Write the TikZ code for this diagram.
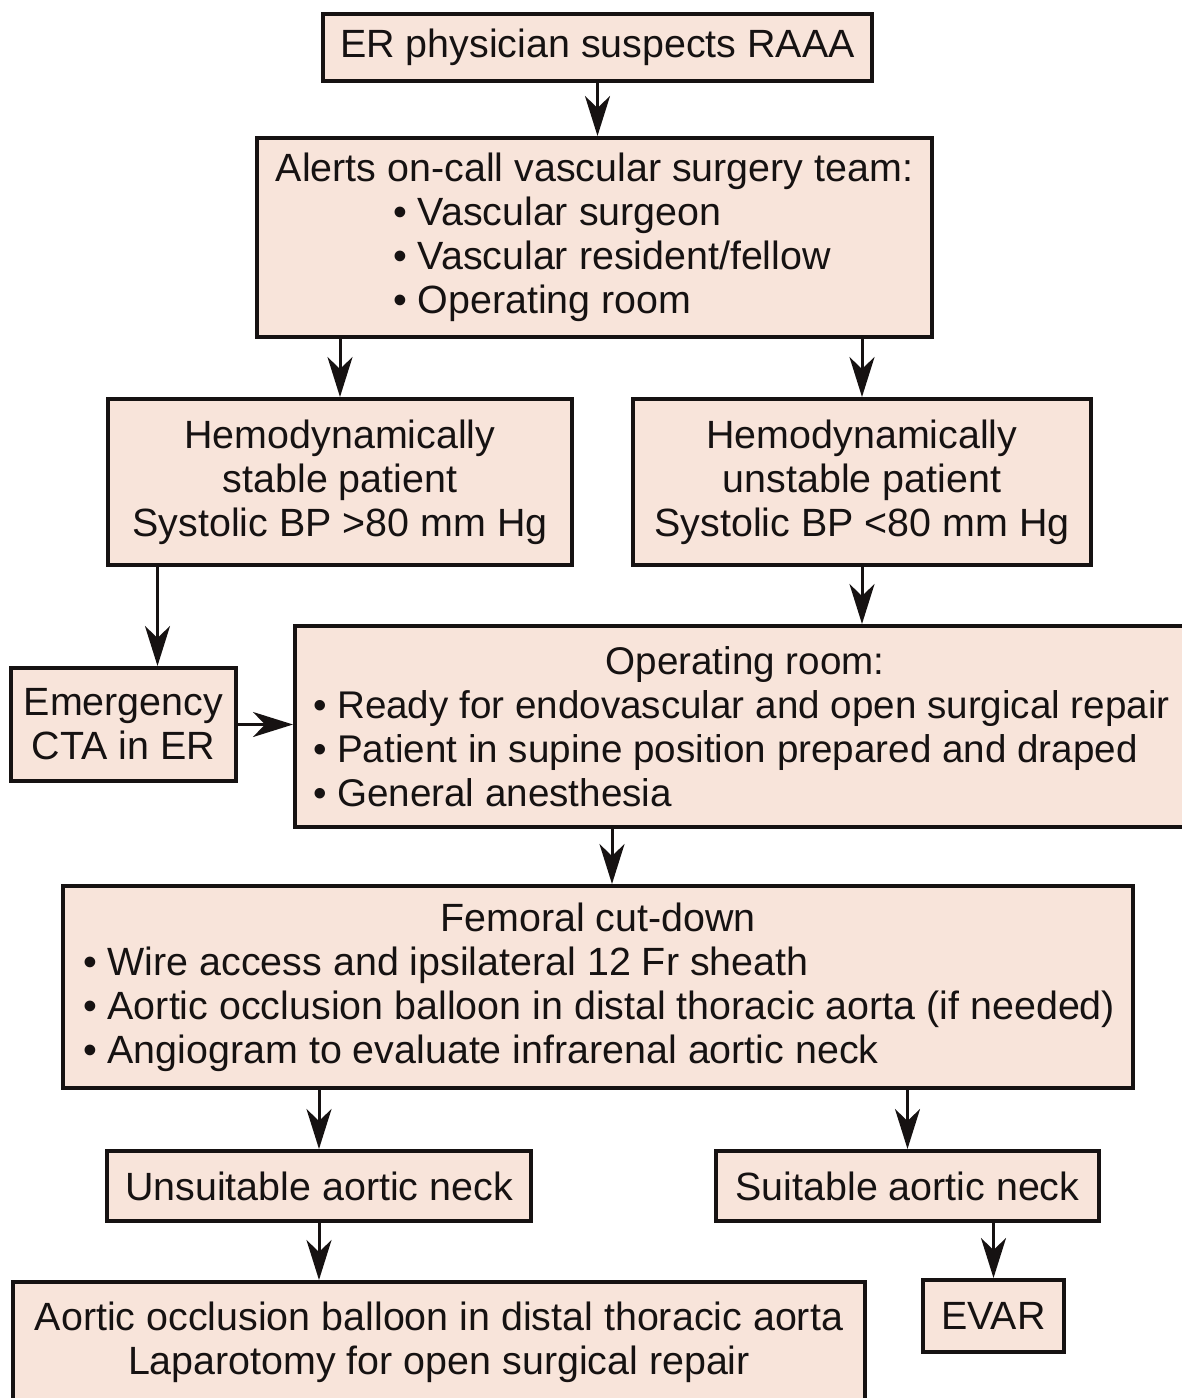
\documentclass[tikz,border=0pt]{standalone}
\usepackage{fontspec}
\setmainfont{Liberation Sans}
\usetikzlibrary{arrows.meta,calc}
\definecolor{salmon}{RGB}{248,228,218}
\definecolor{ink}{RGB}{22,18,18}
% one bulleted line of a box: box width, indent, text
\newcommand{\itemline}[3]{\makebox[#1][l]{\hspace*{#2}• #3}}

\begin{document}
\begin{tikzpicture}[x=0.5pt, y=-0.5pt,
    >={Stealth[length=20pt,width=12.5pt,inset=6pt]},
    flowbox/.style={draw=ink, line width=2pt, fill=salmon, text=ink, inner sep=0pt,
        align=center, font=\fontsize{19.7pt}{22pt}\selectfont},
    flow/.style={->, line width=1.5pt, draw=ink}]

    \useasboundingbox (0,0) rectangle (1182,1398);

    % Alert chain
    \node[flowbox, minimum width=274.5pt, minimum height=33.5pt] (er) at (597.5,47.5) {ER physician suspects RAAA};
    \node[flowbox, minimum height=99.5pt] (alerts) at (594.5,237.5)
        {\makebox[337.5pt]{Alerts on-call vascular surgery team:}\\
         \itemline{337.5pt}{68pt}{Vascular surgeon}\\
         \itemline{337.5pt}{68pt}{Vascular resident/fellow}\\
         \itemline{337.5pt}{68pt}{Operating room}};

    % Patient state
    \node[flowbox, minimum width=232pt, minimum height=83pt] (stable) at (340,482)
        {Hemodynamically\\stable patient\\Systolic BP >80 mm Hg};
    \node[flowbox, minimum width=229pt, minimum height=83pt] (unstable) at (862,482)
        {Hemodynamically\\unstable patient\\Systolic BP <80 mm Hg};
    \node[flowbox, minimum width=112.5pt, minimum height=56.5pt] (cta) at (123.5,724.5) {Emergency\\CTA in ER};

    % Operating room
    \node[flowbox, minimum height=100.5pt, font=\fontsize{19.3pt}{22pt}\selectfont] (oproom) at (745,726.5)
        {\makebox[450pt]{Operating room:}\\
         \itemline{450pt}{9pt}{Ready for endovascular and open surgical repair}\\
         \itemline{450pt}{9pt}{Patient in supine position prepared and draped}\\
         \itemline{450pt}{9pt}{General anesthesia}};

    % Femoral access
    \node[flowbox, minimum height=101pt] (femoral) at (598,987)
        {\makebox[535pt]{Femoral cut-down}\\
         \itemline{535pt}{10pt}{Wire access and ipsilateral 12 Fr sheath}\\
         \itemline{535pt}{10pt}{Aortic occlusion balloon in distal thoracic aorta (if needed)}\\
         \itemline{535pt}{10pt}{Angiogram to evaluate infrarenal aortic neck}};

    % Neck anatomy and repair
    \node[flowbox, minimum width=212pt, minimum height=35pt] (unsuit) at (319,1186) {Unsuitable aortic neck};
    \node[flowbox, minimum width=191.5pt, minimum height=35pt] (suit) at (907.5,1186) {Suitable aortic neck};
    \node[flowbox, minimum width=426pt, minimum height=60pt] (openrep) at (439,1342)
        {Aortic occlusion balloon in distal thoracic aorta\\Laparotomy for open surgical repair};
    \node[flowbox, minimum width=70.5pt, minimum height=36pt] (evar) at (993.5,1316) {EVAR};

    % Connectors
    \coordinate (ctaIn) at ($(cta.north)+(34,0)$);
    \coordinate (femIn) at ($(femoral.north)+(14,0)$);
    \draw[flow] (er.south) -- (er.south |- alerts.north);
    \draw[flow] (alerts.south -| stable.north) -- (stable.north);
    \draw[flow] (alerts.south -| unstable.north) -- (unstable.north);
    \draw[flow] (stable.south -| ctaIn) -- (ctaIn);
    \draw[flow] (unstable.south) -- (unstable.south |- oproom.north);
    \draw[flow] (cta.east) -- (cta.east -| oproom.west);
    \draw[flow] (oproom.south -| femIn) -- (femIn);
    \draw[flow] (femoral.south -| unsuit.north) -- (unsuit.north);
    \draw[flow] (femoral.south -| suit.north) -- (suit.north);
    \draw[flow] (unsuit.south) -- (unsuit.south |- openrep.north);
    \draw[flow] (suit.south -| evar.north) -- (evar.north);

\end{tikzpicture}
\end{document}
